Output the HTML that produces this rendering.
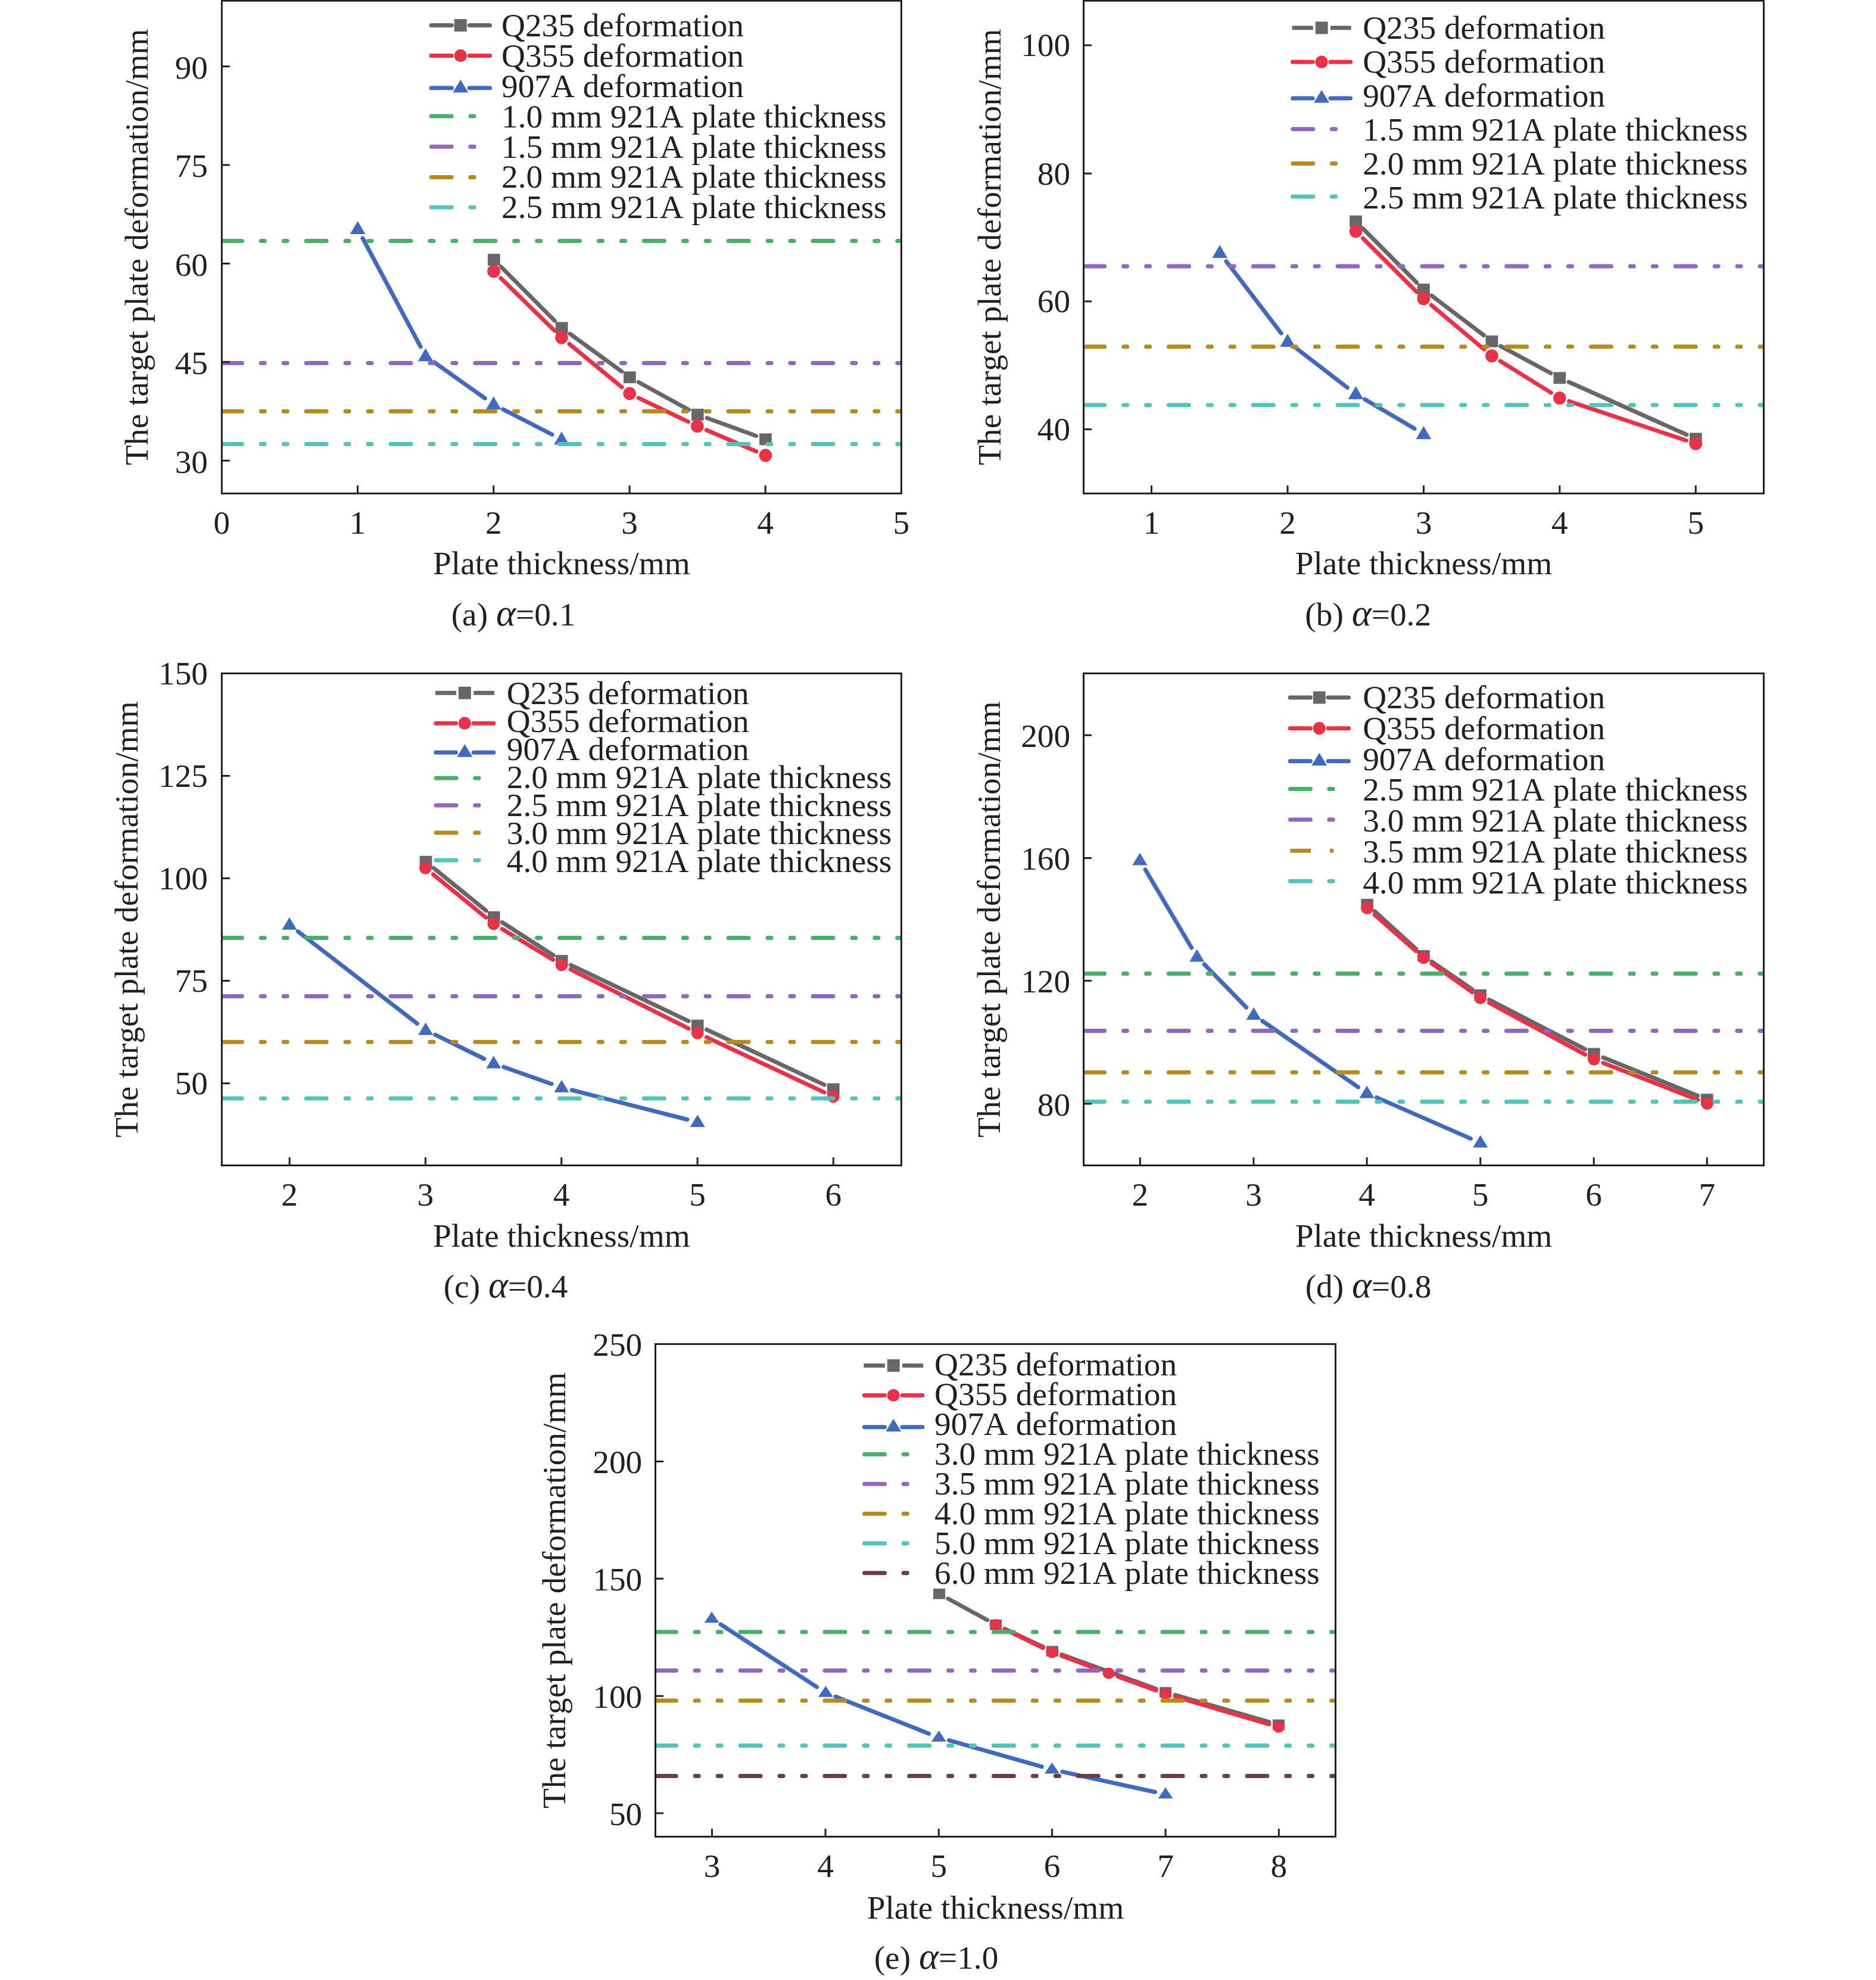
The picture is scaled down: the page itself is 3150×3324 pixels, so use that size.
<!DOCTYPE html>
<html><head><meta charset="utf-8"><title>Target plate deformation vs plate thickness</title>
<style>
html,body{margin:0;padding:0;background:#fff}
svg{display:block}
text{font-family:"Liberation Serif",serif;font-size:55.3px;fill:#231f20;font-kerning:none;font-variant-ligatures:none}
</style></head><body>
<svg width="3150" height="3324" viewBox="0 0 3150 3324">
<rect width="3150" height="3324" fill="#fff"/>
<g id="pa">
<path d="M841.2 447.9L931.5 538.6M956.9 560.4L1043.7 623.5M1072 641.5L1156.6 688M1187.1 701.8L1269.6 731.7" fill="none" stroke="#686667" stroke-width="7.0" stroke-linecap="round"/>
<rect x="819" y="426.1" width="20.7" height="19.8" fill="#686667"/>
<rect x="932.9" y="540.6" width="20.7" height="19.8" fill="#686667"/>
<rect x="1047" y="623.5" width="20.7" height="19.8" fill="#686667"/>
<rect x="1161" y="686.2" width="20.7" height="19.8" fill="#686667"/>
<rect x="1275.1" y="727.5" width="20.7" height="19.8" fill="#686667"/>
<path d="M841 467.1L931 555.1M956 577.5L1044.2 650.1M1072.3 668.1L1155.8 708.1M1186.3 722L1270 757.9" fill="none" stroke="#E73248" stroke-width="7.0" stroke-linecap="round"/>
<ellipse cx="829" cy="455.4" rx="10.8" ry="11" fill="#E73248"/>
<ellipse cx="943" cy="566.8" rx="10.8" ry="11" fill="#E73248"/>
<ellipse cx="1057.2" cy="660.8" rx="10.8" ry="11" fill="#E73248"/>
<ellipse cx="1170.9" cy="715.4" rx="10.8" ry="11" fill="#E73248"/>
<ellipse cx="1285.4" cy="764.5" rx="10.8" ry="11" fill="#E73248"/>
<path d="M609 400L706.2 582.1M729.1 608.1L814.3 668.6M844.6 687.1L927.1 729.5" fill="none" stroke="#4169BE" stroke-width="7.0" stroke-linecap="round"/>
<path d="M600.6 371.1L613.4 392.9H587.8Z" fill="#4169BE"/>
<path d="M714.6 584.5L727.4 606.5H701.8Z" fill="#4169BE"/>
<path d="M828.8 665.6L841.6 687.6H816Z" fill="#4169BE"/>
<path d="M942.9 724.4L955.7 746.4H930.1Z" fill="#4169BE"/>
<clipPath id="ca"><rect x="372.4" y="1.2" width="1141" height="827.2"/></clipPath>
<path clip-path="url(#ca)" d="M372.4 404.4H1513.4" stroke="#4BAE6C" stroke-width="7.0" stroke-linecap="round" stroke-dasharray="34 31.93 6 31.93 6 31.93" fill="none"/>
<path clip-path="url(#ca)" d="M372.4 609.4H1513.4" stroke="#9267C0" stroke-width="7.0" stroke-linecap="round" stroke-dasharray="34 31.93 6 31.93 6 31.93" fill="none"/>
<path clip-path="url(#ca)" d="M372.4 690.5H1513.4" stroke="#B78A1F" stroke-width="7.0" stroke-linecap="round" stroke-dasharray="34 31.93 6 31.93 6 31.93" fill="none"/>
<path clip-path="url(#ca)" d="M372.4 745.5H1513.4" stroke="#55C4B8" stroke-width="7.0" stroke-linecap="round" stroke-dasharray="34 31.93 6 31.93 6 31.93" fill="none"/>
<rect x="372.4" y="1.2" width="1141" height="827.2" fill="none" stroke="#231f20" stroke-width="3.0"/>
<path d="M600.6 828.4v-13.5M828.8 828.4v-13.5M1057 828.4v-13.5M1285.2 828.4v-13.5M372.4 773.2h13.5M372.4 607.8h13.5M372.4 442.4h13.5M372.4 277h13.5M372.4 111.5h13.5" stroke="#231f20" stroke-width="3" fill="none"/>
<text x="372.4" y="896" text-anchor="middle">0</text>
<text x="600.6" y="896" text-anchor="middle">1</text>
<text x="828.8" y="896" text-anchor="middle">2</text>
<text x="1057" y="896" text-anchor="middle">3</text>
<text x="1285.2" y="896" text-anchor="middle">4</text>
<text x="1513.4" y="896" text-anchor="middle">5</text>
<text x="349" y="793.5" text-anchor="end">30</text>
<text x="349" y="628.1" text-anchor="end">45</text>
<text x="349" y="462.7" text-anchor="end">60</text>
<text x="349" y="297.3" text-anchor="end">75</text>
<text x="349" y="131.8" text-anchor="end">90</text>
<text x="942.9" y="964.4" text-anchor="middle">Plate thickness/mm</text>
<text transform="translate(248 414.8) rotate(-90)" text-anchor="middle">The target plate deformation/mm</text>
<text x="862" y="1050.1" text-anchor="middle">(a) <tspan font-style="italic" font-size="63">α</tspan>=0.1</text>
<path d="M724.1 42.5H758.4M788.2 42.5H822.6" stroke="#686667" stroke-width="7.0" stroke-linecap="round" fill="none"/>
<rect x="762.8" y="32" width="20.9" height="20.9" fill="#686667"/>
<text x="842" y="61.3">Q235 deformation</text>
<path d="M724.1 93.4H758.4M788.2 93.4H822.6" stroke="#E73248" stroke-width="7.0" stroke-linecap="round" fill="none"/>
<ellipse cx="773.3" cy="93.4" rx="10.6" ry="10.6" fill="#E73248"/>
<text x="842" y="112.1">Q355 deformation</text>
<path d="M724.1 147.8H758.4M788.2 147.8H822.6" stroke="#4169BE" stroke-width="7.0" stroke-linecap="round" fill="none"/>
<path d="M773.3 133.7L786.3 155.3H760.3Z" fill="#4169BE"/>
<text x="842" y="163">907A deformation</text>
<path d="M724.3 195.1h34m31.6 0h6.2" stroke="#4BAE6C" stroke-width="7.0" stroke-linecap="round" fill="none"/>
<text x="842" y="213.8">1.0 mm 921A plate thickness</text>
<path d="M724.3 246.3h34m31.6 0h6.2" stroke="#9267C0" stroke-width="7.0" stroke-linecap="round" fill="none"/>
<text x="842" y="264.6">1.5 mm 921A plate thickness</text>
<path d="M724.3 297.4h34m31.6 0h6.2" stroke="#B78A1F" stroke-width="7.0" stroke-linecap="round" fill="none"/>
<text x="842" y="315.4">2.0 mm 921A plate thickness</text>
<path d="M724.3 348h34m31.6 0h6.2" stroke="#55C4B8" stroke-width="7.0" stroke-linecap="round" fill="none"/>
<text x="842" y="366.3">2.5 mm 921A plate thickness</text>
</g>
<g id="pb">
<path d="M2288.3 383.5L2378.6 474.2M2403.8 496.3L2491.5 562.9M2519.7 581.1L2604 626.5M2634.1 641.3L2832 729.7" fill="none" stroke="#686667" stroke-width="7.0" stroke-linecap="round"/>
<rect x="2266.2" y="361.7" width="20.7" height="19.8" fill="#686667"/>
<rect x="2380.1" y="476.2" width="20.7" height="19.8" fill="#686667"/>
<rect x="2494.6" y="563.2" width="20.7" height="19.8" fill="#686667"/>
<rect x="2608.5" y="624.6" width="20.7" height="19.8" fill="#686667"/>
<rect x="2837" y="726.6" width="20.7" height="19.8" fill="#686667"/>
<path d="M2288.4 400.1L2378.5 489.7M2403.3 512.3L2492 586.6M2519.2 606.3L2604.5 659.4M2634.7 673.6L2831.4 739.5" fill="none" stroke="#E73248" stroke-width="7.0" stroke-linecap="round"/>
<ellipse cx="2276.5" cy="388.3" rx="10.8" ry="11" fill="#E73248"/>
<ellipse cx="2390.4" cy="501.5" rx="10.8" ry="11" fill="#E73248"/>
<ellipse cx="2504.9" cy="597.4" rx="10.8" ry="11" fill="#E73248"/>
<ellipse cx="2618.8" cy="668.3" rx="10.8" ry="11" fill="#E73248"/>
<ellipse cx="2847.3" cy="744.8" rx="10.8" ry="11" fill="#E73248"/>
<path d="M2059 438.6L2151.2 559.4M2176.1 584.3L2262.4 650.7M2291.8 670.5L2375.1 719.6" fill="none" stroke="#4169BE" stroke-width="7.0" stroke-linecap="round"/>
<path d="M2048.2 411.2L2061 433.1H2035.4Z" fill="#4169BE"/>
<path d="M2162 560.2L2174.8 582.2H2149.2Z" fill="#4169BE"/>
<path d="M2276.5 648.2L2289.3 670.2H2263.7Z" fill="#4169BE"/>
<path d="M2390.4 715.3L2403.2 737.2H2377.6Z" fill="#4169BE"/>
<clipPath id="cb"><rect x="1819.5" y="1.2" width="1142" height="827.2"/></clipPath>
<path clip-path="url(#cb)" d="M1820.7 447.1H2961.5" stroke="#9267C0" stroke-width="7.0" stroke-linecap="round" stroke-dasharray="34 31.93 6 31.93 6 31.93" fill="none"/>
<path clip-path="url(#cb)" d="M1820.7 582.1H2961.5" stroke="#B78A1F" stroke-width="7.0" stroke-linecap="round" stroke-dasharray="34 31.93 6 31.93 6 31.93" fill="none"/>
<path clip-path="url(#cb)" d="M1820.7 680H2961.5" stroke="#55C4B8" stroke-width="7.0" stroke-linecap="round" stroke-dasharray="34 31.93 6 31.93 6 31.93" fill="none"/>
<rect x="1819.5" y="1.2" width="1142" height="827.2" fill="none" stroke="#231f20" stroke-width="3.0"/>
<path d="M1933.5 828.4v-13.5M2162 828.4v-13.5M2390.5 828.4v-13.5M2618.9 828.4v-13.5M2847.3 828.4v-13.5M1819.5 720.7h13.5M1819.5 506h13.5M1819.5 291.2h13.5M1819.5 76h13.5" stroke="#231f20" stroke-width="3" fill="none"/>
<text x="1933.5" y="896" text-anchor="middle">1</text>
<text x="2162" y="896" text-anchor="middle">2</text>
<text x="2390.5" y="896" text-anchor="middle">3</text>
<text x="2618.9" y="896" text-anchor="middle">4</text>
<text x="2847.3" y="896" text-anchor="middle">5</text>
<text x="1797.1" y="739.1" text-anchor="end">40</text>
<text x="1797.1" y="524.4" text-anchor="end">60</text>
<text x="1797.1" y="309.6" text-anchor="end">80</text>
<text x="1797.1" y="94.4" text-anchor="end">100</text>
<text x="2390.5" y="964.4" text-anchor="middle">Plate thickness/mm</text>
<text transform="translate(1680.2 414.8) rotate(-90)" text-anchor="middle">The target plate deformation/mm</text>
<text x="2297.2" y="1050.1" text-anchor="middle">(b) <tspan font-style="italic" font-size="63">α</tspan>=0.2</text>
<path d="M2169.7 46.8H2204.8M2234 46.8H2268.7" stroke="#686667" stroke-width="7.0" stroke-linecap="butt" fill="none"/>
<rect x="2208.7" y="36.3" width="20.9" height="20.9" fill="#686667"/>
<text x="2288.2" y="64.5">Q235 deformation</text>
<path d="M2170.6 104H2204.2M2234 104H2267.6" stroke="#E73248" stroke-width="7.0" stroke-linecap="round" fill="none"/>
<ellipse cx="2219.1" cy="104" rx="10.6" ry="10.6" fill="#E73248"/>
<text x="2288.2" y="121.5">Q355 deformation</text>
<path d="M2170.6 165.1H2204.2M2234 165.1H2267.6" stroke="#4169BE" stroke-width="7.0" stroke-linecap="round" fill="none"/>
<path d="M2219.1 151L2232.1 172.6H2206.1Z" fill="#4169BE"/>
<text x="2288.2" y="178.5">907A deformation</text>
<path d="M2170.8 216.8h34m31.6 0h6.2" stroke="#9267C0" stroke-width="7.0" stroke-linecap="round" fill="none"/>
<text x="2288.2" y="235.6">1.5 mm 921A plate thickness</text>
<path d="M2170.8 274.5h34m31.6 0h6.2" stroke="#B78A1F" stroke-width="7.0" stroke-linecap="round" fill="none"/>
<text x="2288.2" y="292.6">2.0 mm 921A plate thickness</text>
<path d="M2170.8 330h34m31.6 0h6.2" stroke="#55C4B8" stroke-width="7.0" stroke-linecap="round" fill="none"/>
<text x="2288.2" y="349.6">2.5 mm 921A plate thickness</text>
</g>
<g id="pc">
<path d="M728 1457.1L816.2 1528.8M843.3 1548.5L929.2 1603.8M958.5 1620.1L1156.1 1714.2M1186.5 1728.5L1384.1 1821.2" fill="none" stroke="#686667" stroke-width="7.0" stroke-linecap="round"/>
<rect x="704.7" y="1436.8" width="20.6" height="19.3" fill="#686667"/>
<rect x="818.9" y="1529.8" width="20.6" height="19.3" fill="#686667"/>
<rect x="933" y="1603.2" width="20.6" height="19.3" fill="#686667"/>
<rect x="1161" y="1711.8" width="20.6" height="19.3" fill="#686667"/>
<rect x="1389" y="1818.6" width="20.6" height="19.3" fill="#686667"/>
<path d="M727.4 1468L815.9 1540.4M843.3 1559.7L928.6 1611.2M958 1627.4L1156.2 1726.7M1186.4 1741.3L1384.1 1833.9" fill="none" stroke="#E73248" stroke-width="7.0" stroke-linecap="round"/>
<ellipse cx="714.4" cy="1457.4" rx="10.4" ry="10.4" fill="#E73248"/>
<ellipse cx="828.9" cy="1551" rx="10.4" ry="10.4" fill="#E73248"/>
<ellipse cx="943" cy="1619.9" rx="10.4" ry="10.4" fill="#E73248"/>
<ellipse cx="1171.2" cy="1734.2" rx="10.4" ry="10.4" fill="#E73248"/>
<ellipse cx="1399.3" cy="1841" rx="10.4" ry="10.4" fill="#E73248"/>
<path d="M500.1 1563.6L700.6 1718.4M730.7 1737.1L812.9 1777.5M845.7 1791.2L926.2 1819.7M960.2 1830L1154.1 1879.5" fill="none" stroke="#4169BE" stroke-width="7.0" stroke-linecap="round"/>
<path d="M486 1540L498.5 1560.8H473.5Z" fill="#4169BE"/>
<path d="M714.7 1716.6L727.2 1737.4H702.2Z" fill="#4169BE"/>
<path d="M828.9 1772.6L841.4 1793.4H816.4Z" fill="#4169BE"/>
<path d="M943 1812.9L955.5 1833.7H930.5Z" fill="#4169BE"/>
<path d="M1171.3 1871.2L1183.8 1892H1158.8Z" fill="#4169BE"/>
<clipPath id="cc"><rect x="372.4" y="1130.5" width="1141" height="826"/></clipPath>
<path clip-path="url(#cc)" d="M372.4 1574.5H1513.4" stroke="#4BAE6C" stroke-width="7.0" stroke-linecap="round" stroke-dasharray="34 31.93 6 31.93 6 31.93" fill="none"/>
<path clip-path="url(#cc)" d="M372.4 1672.4H1513.4" stroke="#9267C0" stroke-width="7.0" stroke-linecap="round" stroke-dasharray="34 31.93 6 31.93 6 31.93" fill="none"/>
<path clip-path="url(#cc)" d="M372.4 1749.3H1513.4" stroke="#B78A1F" stroke-width="7.0" stroke-linecap="round" stroke-dasharray="34 31.93 6 31.93 6 31.93" fill="none"/>
<path clip-path="url(#cc)" d="M372.4 1844H1513.4" stroke="#55C4B8" stroke-width="7.0" stroke-linecap="round" stroke-dasharray="34 31.93 6 31.93 6 31.93" fill="none"/>
<rect x="372.4" y="1130.5" width="1141" height="826" fill="none" stroke="#231f20" stroke-width="3.0"/>
<path d="M486.2 1956.5v-13.5M714.4 1956.5v-13.5M942.7 1956.5v-13.5M1171.1 1956.5v-13.5M1399.3 1956.5v-13.5M372.4 1818.8h13.5M372.4 1646.6h13.5M372.4 1474.5h13.5M372.4 1302.6h13.5" stroke="#231f20" stroke-width="3" fill="none"/>
<text x="486.2" y="2024.1" text-anchor="middle">2</text>
<text x="714.4" y="2024.1" text-anchor="middle">3</text>
<text x="942.7" y="2024.1" text-anchor="middle">4</text>
<text x="1171.1" y="2024.1" text-anchor="middle">5</text>
<text x="1399.3" y="2024.1" text-anchor="middle">6</text>
<text x="349" y="1837.3" text-anchor="end">50</text>
<text x="349" y="1665.1" text-anchor="end">75</text>
<text x="349" y="1493" text-anchor="end">100</text>
<text x="349" y="1321.1" text-anchor="end">125</text>
<text x="349" y="1149" text-anchor="end">150</text>
<text x="942.9" y="2092.5" text-anchor="middle">Plate thickness/mm</text>
<text transform="translate(230.6 1543.5) rotate(-90)" text-anchor="middle">The target plate deformation/mm</text>
<text x="849" y="2178.2" text-anchor="middle">(c) <tspan font-style="italic" font-size="63">α</tspan>=0.4</text>
<path d="M731 1163.3H766.1M795.3 1163.3H830" stroke="#686667" stroke-width="7.0" stroke-linecap="butt" fill="none"/>
<rect x="769.9" y="1152.8" width="20.9" height="20.9" fill="#686667"/>
<text x="850.8" y="1182.2">Q235 deformation</text>
<path d="M731.9 1214.2H765.5M795.3 1214.2H828.9" stroke="#E73248" stroke-width="7.0" stroke-linecap="round" fill="none"/>
<ellipse cx="780.4" cy="1214.2" rx="10.6" ry="10.6" fill="#E73248"/>
<text x="850.8" y="1229.2">Q355 deformation</text>
<path d="M731.9 1263.3H765.5M795.3 1263.3H828.9" stroke="#4169BE" stroke-width="7.0" stroke-linecap="round" fill="none"/>
<path d="M780.4 1249.2L793.4 1270.8H767.4Z" fill="#4169BE"/>
<text x="850.8" y="1276.2">907A deformation</text>
<path d="M732.1 1306.2h34m31.6 0h6.2" stroke="#4BAE6C" stroke-width="7.0" stroke-linecap="round" fill="none"/>
<text x="850.8" y="1323.1">2.0 mm 921A plate thickness</text>
<path d="M732.1 1352.1h34m31.6 0h6.2" stroke="#9267C0" stroke-width="7.0" stroke-linecap="round" fill="none"/>
<text x="850.8" y="1370.1">2.5 mm 921A plate thickness</text>
<path d="M732.1 1398h34m31.6 0h6.2" stroke="#B78A1F" stroke-width="7.0" stroke-linecap="round" fill="none"/>
<text x="850.8" y="1417.1">3.0 mm 921A plate thickness</text>
<path d="M732.1 1444.3h34m31.6 0h6.2" stroke="#55C4B8" stroke-width="7.0" stroke-linecap="round" fill="none"/>
<text x="850.8" y="1464.1">4.0 mm 921A plate thickness</text>
</g>
<g id="pd">
<path d="M2308.1 1529.9L2378 1593.4M2404.2 1614.3L2471.9 1661M2500.6 1678.3L2661.5 1761.3M2692 1775.3L2850.7 1839.5" fill="none" stroke="#686667" stroke-width="7.0" stroke-linecap="round"/>
<rect x="2285.4" y="1508.9" width="20.6" height="19.3" fill="#686667"/>
<rect x="2380.1" y="1595" width="20.6" height="19.3" fill="#686667"/>
<rect x="2475.4" y="1660.9" width="20.6" height="19.3" fill="#686667"/>
<rect x="2666.1" y="1759.3" width="20.6" height="19.3" fill="#686667"/>
<rect x="2856" y="1836.1" width="20.6" height="19.3" fill="#686667"/>
<path d="M2308.3 1535.8L2377.8 1596.8M2404.1 1617.6L2472 1665.7M2500.5 1683.4L2661.6 1770.3M2692 1784.4L2850.9 1846.5" fill="none" stroke="#E73248" stroke-width="7.0" stroke-linecap="round"/>
<ellipse cx="2295.7" cy="1524.7" rx="10.4" ry="10.4" fill="#E73248"/>
<ellipse cx="2390.4" cy="1607.9" rx="10.4" ry="10.4" fill="#E73248"/>
<ellipse cx="2485.7" cy="1675.4" rx="10.4" ry="10.4" fill="#E73248"/>
<ellipse cx="2676.4" cy="1778.3" rx="10.4" ry="10.4" fill="#E73248"/>
<ellipse cx="2866.5" cy="1852.6" rx="10.4" ry="10.4" fill="#E73248"/>
<path d="M1923 1459.8L2000.7 1591M2022.2 1619L2092.7 1691.2M2119.7 1714L2280.5 1825.2M2311.4 1842.4L2469.4 1911.4" fill="none" stroke="#4169BE" stroke-width="7.0" stroke-linecap="round"/>
<path d="M1913.9 1431.8L1926.4 1452.6H1901.4Z" fill="#4169BE"/>
<path d="M2009.8 1593.6L2022.3 1614.4H1997.3Z" fill="#4169BE"/>
<path d="M2105.1 1691.2L2117.6 1712H2092.6Z" fill="#4169BE"/>
<path d="M2295.1 1822.6L2307.6 1843.4H2282.6Z" fill="#4169BE"/>
<path d="M2485.7 1905.8L2498.2 1926.6H2473.2Z" fill="#4169BE"/>
<clipPath id="cd"><rect x="1819.5" y="1130.5" width="1142" height="826"/></clipPath>
<path clip-path="url(#cd)" d="M1820.5 1634.6H2961.5" stroke="#4BAE6C" stroke-width="7.0" stroke-linecap="round" stroke-dasharray="34 31.93 6 31.93 6 31.93" fill="none"/>
<path clip-path="url(#cd)" d="M1820.5 1730.6H2961.5" stroke="#9267C0" stroke-width="7.0" stroke-linecap="round" stroke-dasharray="34 31.93 6 31.93 6 31.93" fill="none"/>
<path clip-path="url(#cd)" d="M1820.5 1800.3H2961.5" stroke="#B78A1F" stroke-width="7.0" stroke-linecap="round" stroke-dasharray="34 31.93 6 31.93 6 31.93" fill="none"/>
<path clip-path="url(#cd)" d="M1820.5 1849.5H2961.5" stroke="#55C4B8" stroke-width="7.0" stroke-linecap="round" stroke-dasharray="34 31.93 6 31.93 6 31.93" fill="none"/>
<rect x="1819.5" y="1130.5" width="1142" height="826" fill="none" stroke="#231f20" stroke-width="3.0"/>
<path d="M1914.4 1956.5v-13.5M2105 1956.5v-13.5M2295.2 1956.5v-13.5M2485.7 1956.5v-13.5M2676.2 1956.5v-13.5M2866.3 1956.5v-13.5M1819.5 1853.1h13.5M1819.5 1646.5h13.5M1819.5 1440.4h13.5M1819.5 1234.2h13.5" stroke="#231f20" stroke-width="3" fill="none"/>
<text x="1914.4" y="2024.1" text-anchor="middle">2</text>
<text x="2105" y="2024.1" text-anchor="middle">3</text>
<text x="2295.2" y="2024.1" text-anchor="middle">4</text>
<text x="2485.7" y="2024.1" text-anchor="middle">5</text>
<text x="2676.2" y="2024.1" text-anchor="middle">6</text>
<text x="2866.3" y="2024.1" text-anchor="middle">7</text>
<text x="1797.1" y="1872.6" text-anchor="end">80</text>
<text x="1797.1" y="1666" text-anchor="end">120</text>
<text x="1797.1" y="1459.9" text-anchor="end">160</text>
<text x="1797.1" y="1253.7" text-anchor="end">200</text>
<text x="2390.5" y="2092.5" text-anchor="middle">Plate thickness/mm</text>
<text transform="translate(1678.5 1543.5) rotate(-90)" text-anchor="middle">The target plate deformation/mm</text>
<text x="2297.5" y="2178.2" text-anchor="middle">(d) <tspan font-style="italic" font-size="63">α</tspan>=0.8</text>
<path d="M2166.2 1171.1H2200.3M2230.1 1171.1H2264.6" stroke="#686667" stroke-width="7.0" stroke-linecap="round" fill="none"/>
<rect x="2204.8" y="1160.6" width="20.9" height="20.9" fill="#686667"/>
<text x="2288.2" y="1188.9">Q235 deformation</text>
<path d="M2166.2 1222.7H2200.3M2230.1 1222.7H2264.6" stroke="#E73248" stroke-width="7.0" stroke-linecap="round" fill="none"/>
<ellipse cx="2215.2" cy="1222.7" rx="10.6" ry="10.6" fill="#E73248"/>
<text x="2288.2" y="1240.7">Q355 deformation</text>
<path d="M2166.2 1277.8H2200.3M2230.1 1277.8H2264.6" stroke="#4169BE" stroke-width="7.0" stroke-linecap="round" fill="none"/>
<path d="M2215.2 1263.7L2228.2 1285.3H2202.2Z" fill="#4169BE"/>
<text x="2288.2" y="1292.5">907A deformation</text>
<path d="M2166.4 1324.6h34m31.6 0h6.2" stroke="#4BAE6C" stroke-width="7.0" stroke-linecap="round" fill="none"/>
<text x="2288.2" y="1344.4">2.5 mm 921A plate thickness</text>
<path d="M2166.4 1376.1h34m31.6 0h6.2" stroke="#9267C0" stroke-width="7.0" stroke-linecap="round" fill="none"/>
<text x="2288.2" y="1396.2">3.0 mm 921A plate thickness</text>
<path d="M2166.4 1428.2h34.6m32.2 0h6" stroke="#B78A1F" stroke-width="7.0" stroke-linecap="butt" fill="none"/>
<text x="2288.2" y="1448">3.5 mm 921A plate thickness</text>
<path d="M2166.4 1479.3h34m31.6 0h6.2" stroke="#55C4B8" stroke-width="7.0" stroke-linecap="round" fill="none"/>
<text x="2288.2" y="1499.8">4.0 mm 921A plate thickness</text>
</g>
<g id="pe">
<path d="M1591.8 2683.8L1657.4 2719.5M1687.3 2734.7L1751.8 2764.9M1782.8 2777.7L1941.2 2835.3M1973.2 2845.6L2130.8 2890.8" fill="none" stroke="#686667" stroke-width="7.0" stroke-linecap="round"/>
<rect x="1567.1" y="2666.9" width="20" height="17.6" fill="#686667"/>
<rect x="1662.1" y="2718.8" width="20" height="17.6" fill="#686667"/>
<rect x="1757" y="2763.2" width="20" height="17.6" fill="#686667"/>
<rect x="1947" y="2832.2" width="20" height="17.6" fill="#686667"/>
<rect x="2137" y="2886.6" width="20" height="17.6" fill="#686667"/>
<path d="M1686.9 2735L1751.3 2766.5M1782.2 2779.7L1845.9 2803.2M1877.5 2814.7L1941.2 2837.9M1973.1 2848.3L2130.9 2894.6" fill="none" stroke="#E73248" stroke-width="7.0" stroke-linecap="round"/>
<ellipse cx="1671.8" cy="2727.6" rx="10.2" ry="9.6" fill="#E73248"/>
<ellipse cx="1766.4" cy="2773.9" rx="10.2" ry="9.6" fill="#E73248"/>
<ellipse cx="1861.7" cy="2809" rx="10.2" ry="9.6" fill="#E73248"/>
<ellipse cx="1957" cy="2843.6" rx="10.2" ry="9.6" fill="#E73248"/>
<ellipse cx="2147" cy="2899.3" rx="10.2" ry="9.6" fill="#E73248"/>
<path d="M1210 2727L1371.5 2832.1M1403 2848.3L1559.8 2910.4M1593.5 2921.7L1749.3 2965.8M1783.8 2974.4L1939.6 3008.5" fill="none" stroke="#4169BE" stroke-width="7.0" stroke-linecap="round"/>
<path d="M1195.1 2705.8L1207.6 2724.2H1182.6Z" fill="#4169BE"/>
<path d="M1386.4 2830.2L1398.9 2848.8H1373.9Z" fill="#4169BE"/>
<path d="M1576.4 2905.3L1588.9 2923.8H1563.9Z" fill="#4169BE"/>
<path d="M1766.4 2959.1L1778.9 2977.6H1753.9Z" fill="#4169BE"/>
<path d="M1957 3000.8L1969.5 3019.2H1944.5Z" fill="#4169BE"/>
<clipPath id="ce"><rect x="1100.5" y="2256.4" width="1142" height="827"/></clipPath>
<path clip-path="url(#ce)" d="M1101.3 2739.8H2242.5" stroke="#4BAE6C" stroke-width="7.0" stroke-linecap="round" stroke-dasharray="34 31.93 6 31.93 6 31.93" fill="none"/>
<path clip-path="url(#ce)" d="M1101.3 2804.5H2242.5" stroke="#9267C0" stroke-width="7.0" stroke-linecap="round" stroke-dasharray="34 31.93 6 31.93 6 31.93" fill="none"/>
<path clip-path="url(#ce)" d="M1101.3 2855H2242.5" stroke="#B78A1F" stroke-width="7.0" stroke-linecap="round" stroke-dasharray="34 31.93 6 31.93 6 31.93" fill="none"/>
<path clip-path="url(#ce)" d="M1101.3 2930.5H2242.5" stroke="#55C4B8" stroke-width="7.0" stroke-linecap="round" stroke-dasharray="34 31.93 6 31.93 6 31.93" fill="none"/>
<path clip-path="url(#ce)" d="M1101.3 2981.6H2242.5" stroke="#6B3F48" stroke-width="7.0" stroke-linecap="round" stroke-dasharray="34 31.93 6 31.93 6 31.93" fill="none"/>
<rect x="1100.5" y="2256.4" width="1142" height="827" fill="none" stroke="#231f20" stroke-width="3.0"/>
<path d="M1195.5 3083.4v-13.5M1386 3083.4v-13.5M1576.3 3083.4v-13.5M1766.6 3083.4v-13.5M1957 3083.4v-13.5M2147.3 3083.4v-13.5M1100.5 3044h13.5M1100.5 2847.2h13.5M1100.5 2650.2h13.5M1100.5 2453.4h13.5" stroke="#231f20" stroke-width="3" fill="none"/>
<text x="1195.5" y="3151" text-anchor="middle">3</text>
<text x="1386" y="3151" text-anchor="middle">4</text>
<text x="1576.3" y="3151" text-anchor="middle">5</text>
<text x="1766.6" y="3151" text-anchor="middle">6</text>
<text x="1957" y="3151" text-anchor="middle">7</text>
<text x="2147.3" y="3151" text-anchor="middle">8</text>
<text x="1078.2" y="3063.5" text-anchor="end">50</text>
<text x="1078.2" y="2866.7" text-anchor="end">100</text>
<text x="1078.2" y="2669.7" text-anchor="end">150</text>
<text x="1078.2" y="2472.9" text-anchor="end">200</text>
<text x="1078.2" y="2275.9" text-anchor="end">250</text>
<text x="1671.5" y="3221" text-anchor="middle">Plate thickness/mm</text>
<text transform="translate(949.2 2669.9) rotate(-90)" text-anchor="middle">The target plate deformation/mm</text>
<text x="1572" y="3305.1" text-anchor="middle">(e) <tspan font-style="italic" font-size="63">α</tspan>=1.0</text>
<path d="M1450.4 2292.4H1485.9M1515.1 2292.4H1550.1" stroke="#686667" stroke-width="7.0" stroke-linecap="butt" fill="none"/>
<rect x="1489.8" y="2282" width="20.9" height="20.9" fill="#686667"/>
<text x="1569.1" y="2308.9">Q235 deformation</text>
<path d="M1451.3 2342.5H1485.3M1515.1 2342.5H1549" stroke="#E73248" stroke-width="7.0" stroke-linecap="round" fill="none"/>
<ellipse cx="1500.2" cy="2342.5" rx="10.6" ry="10.6" fill="#E73248"/>
<text x="1569.1" y="2358.9">Q355 deformation</text>
<path d="M1451.3 2395.8H1485.3M1515.1 2395.8H1549" stroke="#4169BE" stroke-width="7.0" stroke-linecap="round" fill="none"/>
<path d="M1500.2 2381.7L1513.2 2403.3H1487.2Z" fill="#4169BE"/>
<text x="1569.1" y="2408.9">907A deformation</text>
<path d="M1451.5 2441.5h34m31.6 0h6.2" stroke="#4BAE6C" stroke-width="7.0" stroke-linecap="round" fill="none"/>
<text x="1569.1" y="2458.9">3.0 mm 921A plate thickness</text>
<path d="M1451.5 2491.2h34m31.6 0h6.2" stroke="#9267C0" stroke-width="7.0" stroke-linecap="round" fill="none"/>
<text x="1569.1" y="2508.9">3.5 mm 921A plate thickness</text>
<path d="M1451.5 2541.3h34m31.6 0h6.2" stroke="#B78A1F" stroke-width="7.0" stroke-linecap="round" fill="none"/>
<text x="1569.1" y="2558.9">4.0 mm 921A plate thickness</text>
<path d="M1451.5 2591h34m31.6 0h6.2" stroke="#55C4B8" stroke-width="7.0" stroke-linecap="round" fill="none"/>
<text x="1569.1" y="2608.9">5.0 mm 921A plate thickness</text>
<path d="M1451.5 2640.8h34m31.6 0h6.2" stroke="#6B3F48" stroke-width="7.0" stroke-linecap="round" fill="none"/>
<text x="1569.1" y="2658.9">6.0 mm 921A plate thickness</text>
</g>
</svg>
</body></html>
